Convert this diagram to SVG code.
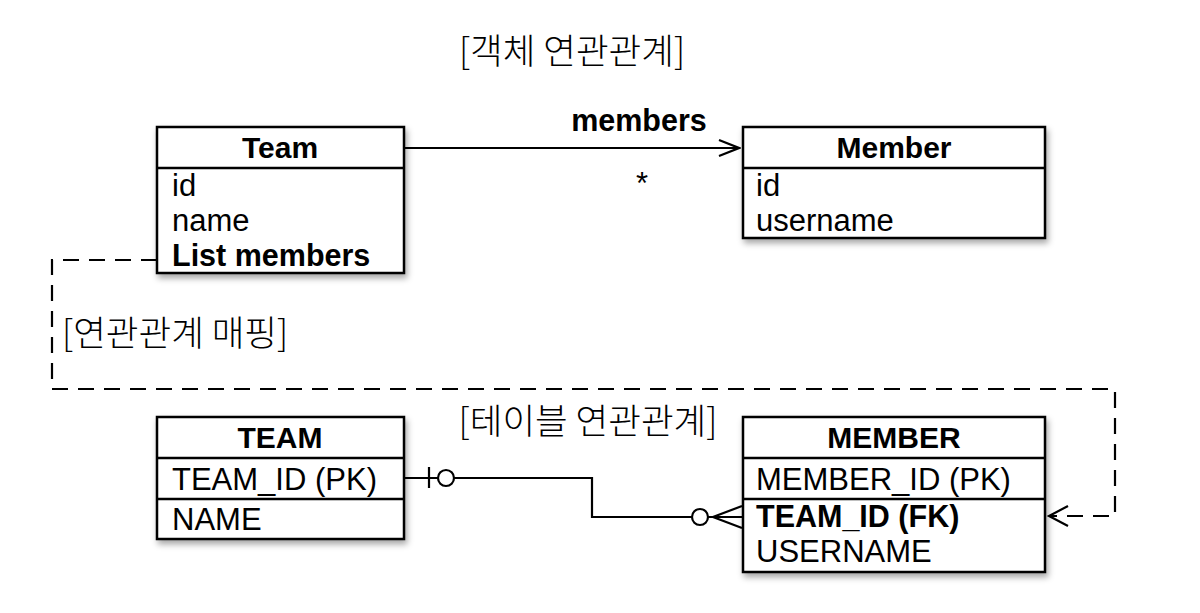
<svg xmlns="http://www.w3.org/2000/svg" width="1200" height="613" viewBox="0 0 1200 613">
<style>
.box{fill:#fff;stroke:#000;stroke-width:2.5;filter:url(#sh)}
.sep{stroke:#000;stroke-width:2.5}
.ln{fill:none;stroke:#000;stroke-width:2.2}
.dash{fill:none;stroke:#000;stroke-width:2.2;stroke-dasharray:16 10}
.h{font-family:"Liberation Sans",Arial,sans-serif;font-weight:bold;font-size:30px;text-anchor:middle}
.t{font-family:"Liberation Sans",Arial,sans-serif;font-size:31px}
.b{font-family:"Liberation Sans",Arial,sans-serif;font-size:30.5px;font-weight:bold}
.k{font-family:"Noto Sans CJK KR","Liberation Sans",sans-serif;font-size:35.5px;font-weight:300}
</style>
<defs>
<filter id="sh" x="-10%" y="-10%" width="125%" height="130%">
<feDropShadow dx="2" dy="4" stdDeviation="3" flood-color="#000" flood-opacity="0.35"/>
</filter>
<marker id="open" markerWidth="24" markerHeight="20" refX="22" refY="10" orient="auto" markerUnits="userSpaceOnUse">
<path d="M2,2 L22,10 L2,18" fill="none" stroke="#000" stroke-width="2.2"/>
</marker>
</defs>
<rect width="1200" height="613" fill="#fff"/>

<text class="k" x="572" y="64" text-anchor="middle">[객체 연관관계]</text>
<text class="k" x="588" y="434" text-anchor="middle">[테이블 연관관계]</text>
<text class="k" x="62" y="346">[연관관계 매핑]</text>

<g id="connectors">
<line class="ln" x1="404" y1="148" x2="739" y2="148" marker-end="url(#open)"/>
<text class="b" x="639" y="131" text-anchor="middle">members</text>
<text class="t" x="642" y="194" text-anchor="middle">*</text>
<polyline class="dash" points="157,260 52,260 52,389 1115,389 1115,516 1050,516"/>
<path d="M1068,506 L1049,516 L1068,526" fill="none" stroke="#000" stroke-width="2.2"/>
<polyline class="ln" points="404,478 438,478"/>
<line class="ln" x1="429" y1="467" x2="429" y2="488"/>
<circle cx="446" cy="478" r="8" fill="#fff" stroke="#000" stroke-width="2.2"/>
<polyline class="ln" points="454,478 592,478 592,517 692,517"/>
<circle cx="700" cy="517" r="8" fill="#fff" stroke="#000" stroke-width="2.2"/>
<path d="M708,517 L742,517 M742,506 L713,517 L742,528" fill="none" stroke="#000" stroke-width="2.2"/>
</g>

<g id="Team">
<rect class="box" x="157" y="127" width="247" height="146"/>
<line class="sep" x1="157" y1="168" x2="404" y2="168"/>
<text class="h" x="280" y="158">Team</text>
<text class="t" x="172" y="196">id</text>
<text class="t" x="172" y="231">name</text>
<text class="b" x="172" y="266">List members</text>
</g>

<g id="Member">
<rect class="box" x="743" y="127" width="302" height="111"/>
<line class="sep" x1="743" y1="168" x2="1045" y2="168"/>
<text class="h" x="894" y="158">Member</text>
<text class="t" x="756" y="196">id</text>
<text class="t" x="756" y="231">username</text>
</g>

<g id="TEAM">
<rect class="box" x="157" y="417" width="247" height="122"/>
<line class="sep" x1="157" y1="458" x2="404" y2="458"/>
<line class="sep" x1="157" y1="499" x2="404" y2="499"/>
<text class="h" x="280" y="448">TEAM</text>
<text class="t" x="172" y="490">TEAM_ID (PK)</text>
<text class="t" x="172" y="530">NAME</text>
</g>

<g id="MEMBER">
<rect class="box" x="743" y="417" width="302" height="155"/>
<line class="sep" x1="743" y1="458" x2="1045" y2="458"/>
<line class="sep" x1="743" y1="499" x2="1045" y2="499"/>
<text class="h" x="894" y="448">MEMBER</text>
<text class="t" x="756" y="490">MEMBER_ID (PK)</text>
<text class="b" x="756" y="527">TEAM_ID (FK)</text>
<text class="t" x="756" y="562">USERNAME</text>
</g>
</svg>
